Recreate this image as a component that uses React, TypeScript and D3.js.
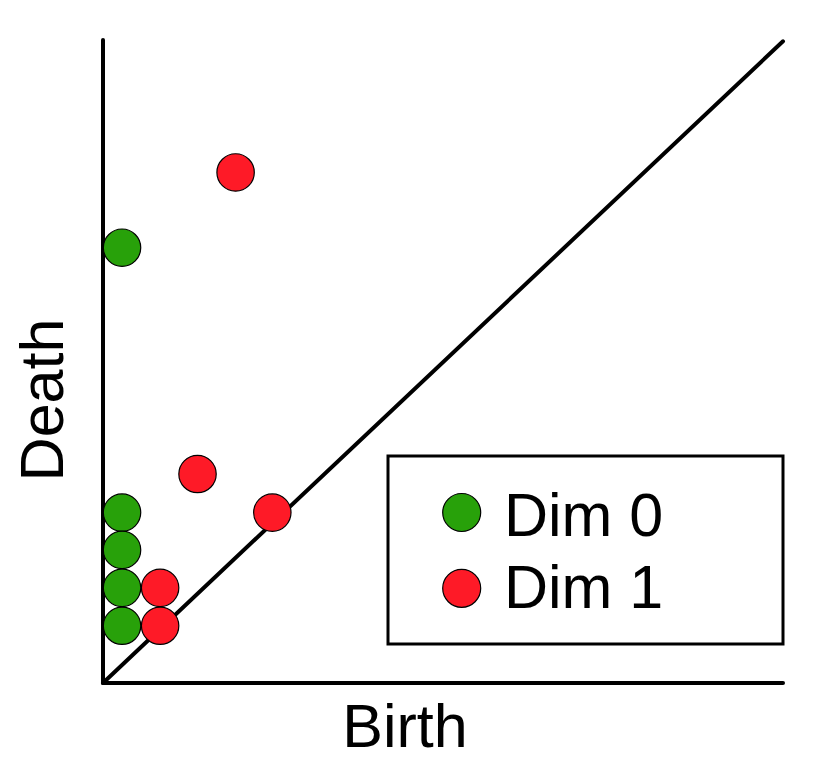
import React from "react";
import * as d3 from "d3";

const dim0Birth = [0.28, 0.28, 0.28, 0.28, 0.28];
const dim0Death = [6.77, 2.65, 2.07, 1.48, 0.89];
const dim1Birth = [1.95, 1.39, 2.49, 0.84, 0.84];
const dim1Death = [7.94, 3.25, 2.65, 1.48, 0.89];
const legendLabels = ["Dim 0", "Dim 1"];
const colors = ["#28a10a", "#fe1a27"];

const W = 832;
const H = 764;

export default function App() {
  const x = d3.scaleLinear().domain([0, 10]).range([103, 783]);
  const y = d3.scaleLinear().domain([0, 10]).range([683, 40]);
  const font = "'Liberation Sans', Arial, Helvetica, sans-serif";
  const r = 18.7;
  const series = [
    { b: dim0Birth, d: dim0Death, c: colors[0] },
    { b: dim1Birth, d: dim1Death, c: colors[1] },
  ];
  return (
    <svg width={W} height={H} style={{ position: "absolute", left: 0, top: 0 }} fontFamily={font}>
      <rect width={W} height={H} fill="#fff" />
      <line x1={x(0)} y1={y(10)} x2={x(0)} y2={y(0)} stroke="#000" strokeWidth={4} strokeLinecap="round" />
      <line x1={x(0)} y1={y(0)} x2={x(10)} y2={y(0)} stroke="#000" strokeWidth={4} strokeLinecap="round" />
      <line x1={x(0)} y1={y(0)} x2={x(10)} y2={y(9.98)} stroke="#000" strokeWidth={4} strokeLinecap="round" />
      {series.map((s, si) =>
        s.b.map((bv, i) => (
          <circle key={`${si}-${i}`} cx={x(bv)} cy={y(s.d[i])} r={r} fill={s.c} stroke="#000" strokeWidth={1.2} />
        ))
      )}
      <rect x={388} y={456} width={395} height={188} fill="#fff" stroke="#000" strokeWidth={3} />
      {legendLabels.map((l, i) => (
        <g key={l}>
          <circle cx={461.7} cy={512.5 + i * 75.8} r={19} fill={colors[i]} stroke="#000" strokeWidth={1.2} />
          <text x={504} y={535.7 + i * 72.5} fontSize={61} fill="#000">{l}</text>
        </g>
      ))}
      <text x={405} y={746.7} fontSize={61} textAnchor="middle" fill="#000">Birth</text>
      <text transform={`translate(63,400) rotate(-90)`} fontSize={61} textAnchor="middle" fill="#000">Death</text>
    </svg>
  );
}
